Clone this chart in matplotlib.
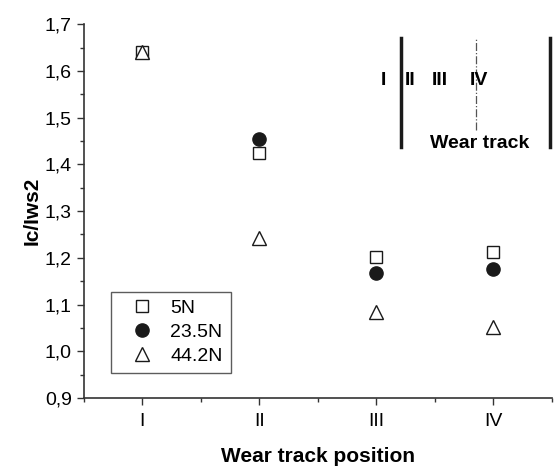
import numpy as np
import matplotlib.pyplot as plt
from matplotlib.ticker import MultipleLocator

plt.rcParams['font.family'] = ['Liberation Sans', 'DejaVu Sans']

positions = [1, 2, 3, 4]
pos_labels = ['I', 'II', 'III', 'IV']
loads = ['5N', '23.5N', '44.2N']
ratio_5n = [1.64, 1.424, 1.202, 1.212]
ratio_23n = [np.nan, 1.454, 1.167, 1.176]
ratio_44n = [1.64, 1.242, 1.084, 1.052]

fig = plt.figure(figsize=(5.55, 4.66), dpi=100)
ax = fig.add_axes([0.1505, 0.146, 0.844, 0.802])

ax.plot(positions, ratio_23n, 'o', color='#1a1a1a', ms=9.5, label=loads[1], zorder=3)
ax.plot(positions, ratio_5n, 's', mfc='white', mec='#1a1a1a', mew=1.0, ms=8, label=loads[0], zorder=4)
ax.plot(positions, ratio_44n, '^', mfc='white', mec='#1a1a1a', mew=1.0, ms=10, label=loads[2], zorder=5)

ax.set_xlim(0.5, 4.5)
ax.set_ylim(0.9, 1.7)
ax.set_xticks(positions)
ax.set_xticklabels(pos_labels)
ax.xaxis.set_minor_locator(MultipleLocator(0.5))
ax.yaxis.set_major_locator(MultipleLocator(0.1))
ax.yaxis.set_minor_locator(MultipleLocator(0.05))
ax.yaxis.set_major_formatter(plt.FuncFormatter(lambda v, p: f'{v:.1f}'.replace('.', ',')))
ax.tick_params(which='major', direction='out', length=5, width=1, labelsize=14, color='#333333')
ax.tick_params(which='minor', direction='out', length=3, width=1, color='#333333')
ax.tick_params(axis='x', pad=6)
for s in ['top', 'right']:
    ax.spines[s].set_visible(False)
for s in ['left', 'bottom']:
    ax.spines[s].set_color('#333333')
    ax.spines[s].set_linewidth(1.2)

ax.set_xlabel('Wear track position', fontsize=15, fontweight='bold', labelpad=12)
ax.set_ylabel('Ic/Iws2', fontsize=15, fontweight='bold', labelpad=2)

handles, labels = ax.get_legend_handles_labels()
order = [1, 0, 2]
leg = ax.legend([handles[i] for i in order], [labels[i] for i in order],
                loc='lower left', bbox_to_anchor=(0.059, 0.067), borderaxespad=0,
                fontsize=14, frameon=True, fancybox=False, edgecolor='#333333',
                handletextpad=0.25, labelspacing=0.33, borderpad=0.4, handlelength=2.4)
leg.get_frame().set_linewidth(1.0)

# wear track sketch
ax.plot([3.209, 3.209], [1.437, 1.670], color='#1a1a1a', lw=2.5, clip_on=False)
ax.plot([4.483, 4.483], [1.437, 1.670], color='#1a1a1a', lw=2.5, clip_on=False)
ax.plot([3.854, 3.854], [1.473, 1.670], color='#555555', lw=0.9, ls='-.', clip_on=False)
for lab, x in zip(pos_labels, [3.065, 3.29, 3.54, 3.88]):
    ax.text(x, 1.58, lab, fontsize=14, fontweight='bold', ha='center', va='center')
ax.text(3.88, 1.445, 'Wear track', fontsize=14, fontweight='bold', ha='center', va='center')

fig.savefig('out.png', dpi=100)
